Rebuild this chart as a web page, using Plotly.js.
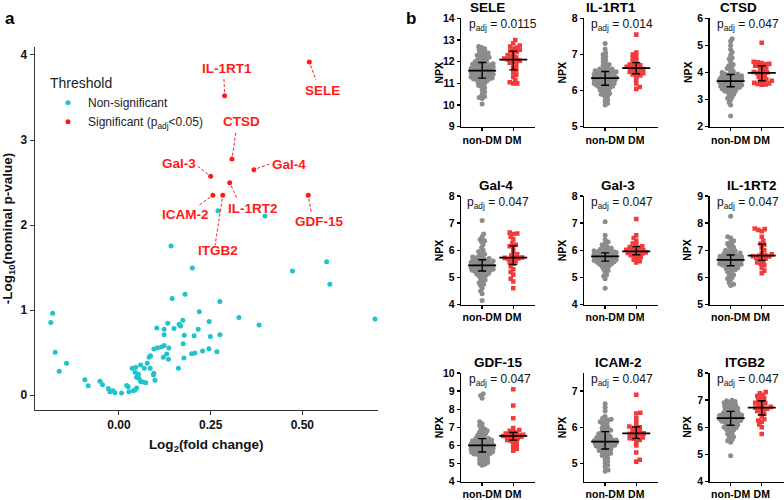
<!DOCTYPE html>
<html>
<head>
<meta charset="utf-8">
<script src="https://cdn.plot.ly/plotly-3.0.1.min.js"></script>
<style>html,body{margin:0;padding:0;background:#fff;}#chart{width:784px;height:500px;}</style>
</head>
<body>
<div id="chart"></div>
<script>
// ---------- Panel a: volcano data ----------
const nsX = [-0.186,-0.181,-0.174,-0.163,-0.143,-0.093,-0.084,-0.052,-0.045,-0.029,-0.025,-0.017,-0.011,0.007,0.021,0.025,0.027,0.036,0.039,0.044,0.046,0.044,0.048,0.048,0.053,0.055,0.059,0.059,0.065,0.069,0.073,0.077,0.082,0.086,0.085,0.094,0.095,0.095,0.098,0.103,0.105,0.116,0.121,0.123,0.123,0.123,0.130,0.133,0.135,0.136,0.145,0.150,0.162,0.164,0.168,0.174,0.175,0.177,0.178,0.180,0.198,0.200,0.207,0.205,0.216,0.219,0.228,0.245,0.246,0.249,0.267,0.275,0.275,0.327,0.382,0.473,0.566,0.575,0.698,0.142,0.270,0.398];
const nsY = [0.852,0.961,0.502,0.280,0.374,0.179,0.109,0.163,0.121,0.078,0.039,0.051,0.027,0.023,0.113,0.097,0.039,0.315,0.051,0.062,0.327,0.268,0.082,0.210,0.245,0.195,0.354,0.160,0.152,0.315,0.144,0.374,0.444,0.463,0.315,0.237,0.541,0.257,0.175,0.790,0.556,0.564,0.444,0.584,0.774,0.708,0.482,0.844,0.420,0.553,1.136,0.782,0.315,0.833,0.813,0.879,0.603,0.436,0.704,1.187,0.486,1.494,0.494,0.697,0.774,0.981,0.518,0.545,0.864,0.689,0.510,1.101,0.708,0.911,0.825,1.459,1.568,1.304,0.895,1.753,2.169,2.106];
const sigGenes = ['SELE','IL-1RT1','CTSD','Gal-4','Gal-3','IL-1RT2','ICAM-2','ITGB2','GDF-15'];
const sigX = [0.519,0.288,0.308,0.368,0.250,0.302,0.256,0.283,0.516];
const sigY = [3.918,3.522,2.776,2.651,2.573,2.498,2.349,2.349,2.349];

// ---------- Panel b: NPX data ----------
const panelGenes = ['SELE','IL-1RT1','CTSD','Gal-4','Gal-3','IL-1RT2','GDF-15','ICAM-2','ITGB2'];
const panelPadj = ['0.0115','0.014','0.047','0.047','0.047','0.047','0.047','0.047','0.047'];
const groupLabels = ['non-DM','DM'];

const seleNonDM = [12.7,12.65,12.6,12.55,12.5,12.45,12.4,12.4,12.35,12.3,12.3,12.25,12.2,12.2,12.15,12.1,12.1,12.05,12.0,12.0,11.95,11.95,11.9,11.9,11.88,11.85,11.85,11.8,11.8,11.78,11.75,11.75,11.7,11.7,11.68,11.65,11.65,11.62,11.6,11.6,11.58,11.55,11.55,11.52,11.5,11.5,11.48,11.45,11.45,11.42,11.4,11.4,11.38,11.35,11.35,11.32,11.3,11.3,11.28,11.25,11.22,11.2,11.2,11.18,11.15,11.1,11.1,11.05,11.0,10.95,10.9,10.85,10.8,10.7,10.6,10.5,10.4,10.35,10.3,10.05];
const seleDM = [13.0,12.85,12.75,12.7,12.65,12.6,12.55,12.5,12.45,12.4,12.3,12.25,12.2,12.15,12.1,12.1,12.05,12.0,11.95,11.9,11.8,11.7,11.6,11.5,11.4,11.3,11.15,11.05,11.0,11.0];
const il1rt1NonDM = [7.3,7.15,7.05,7.0,6.95,6.9,6.85,6.8,6.75,6.72,6.7,6.65,6.62,6.6,6.58,6.55,6.55,6.52,6.5,6.5,6.48,6.45,6.45,6.42,6.4,6.4,6.38,6.37,6.36,6.35,6.35,6.34,6.33,6.32,6.3,6.3,6.28,6.27,6.25,6.25,6.22,6.2,6.2,6.18,6.16,6.15,6.15,6.12,6.1,6.1,6.08,6.05,6.02,6.0,5.98,5.95,5.92,5.9,5.88,5.85,5.8,5.75,5.7,5.65,5.6,6.4,6.3,6.5,6.2,6.6,6.35,6.45,6.25,6.55,6.3,6.4];
const il1rt1DM = [7.55,7.05,7.0,6.95,6.9,6.85,6.8,6.75,6.72,6.7,6.68,6.66,6.65,6.62,6.6,6.58,6.55,6.52,6.5,6.48,6.45,6.42,6.4,6.3,6.2,6.1,6.05];
const ctsdNonDM = [5.25,5.15,5.0,4.85,4.75,4.65,4.55,4.5,4.4,4.3,4.25,4.2,4.15,4.1,4.05,4.0,3.98,3.95,3.95,3.92,3.9,3.88,3.85,3.85,3.82,3.8,3.8,3.78,3.76,3.75,3.74,3.72,3.7,3.7,3.69,3.68,3.67,3.66,3.65,3.64,3.62,3.6,3.6,3.58,3.56,3.55,3.54,3.52,3.5,3.5,3.48,3.46,3.45,3.42,3.4,3.4,3.38,3.35,3.32,3.3,3.28,3.25,3.2,3.15,3.1,3.05,3.0,2.9,2.8,2.4,3.7,3.6,3.8,3.5,3.65,3.75];
const ctsdDM = [5.1,4.4,4.38,4.35,4.32,4.3,4.25,4.2,4.15,4.1,4.05,4.02,4.0,3.98,3.95,3.9,3.85,3.8,3.75,3.7,3.65,3.62,3.6,3.58,3.56,3.55,4.25,3.68];
const gal4NonDM = [7.1,6.6,6.5,6.4,6.35,6.3,6.2,6.1,6.0,5.95,5.9,5.85,5.8,5.78,5.75,5.72,5.7,5.68,5.66,5.64,5.62,5.6,5.58,5.56,5.55,5.54,5.52,5.5,5.5,5.48,5.47,5.46,5.45,5.44,5.43,5.42,5.41,5.4,5.4,5.38,5.36,5.35,5.34,5.32,5.3,5.28,5.26,5.25,5.22,5.2,5.18,5.15,5.12,5.1,5.08,5.05,5.0,4.95,4.9,4.85,4.8,4.75,4.7,4.6,4.5,4.4,4.15,5.45,5.5,5.35,5.6,5.4,5.3,5.55,5.25];
const gal4DM = [6.65,6.62,6.6,6.5,6.4,6.25,6.2,6.15,6.1,5.95,5.85,5.8,5.75,5.73,5.72,5.7,5.65,5.6,5.55,5.5,5.4,5.3,5.2,5.1,4.95,4.85,4.6,5.68];
const gal3NonDM = [7.05,6.55,6.4,6.3,6.25,6.2,6.15,6.1,6.08,6.05,6.02,6.0,5.98,5.96,5.95,5.93,5.92,5.9,5.88,5.87,5.86,5.85,5.84,5.83,5.82,5.81,5.8,5.79,5.78,5.78,5.77,5.76,5.75,5.74,5.73,5.72,5.71,5.7,5.69,5.68,5.66,5.65,5.64,5.62,5.6,5.58,5.56,5.55,5.53,5.5,5.48,5.45,5.42,5.4,5.35,5.3,5.25,5.2,5.1,5.05,4.95,4.6,5.8,5.75,5.85,5.7,5.9,5.65,5.78,5.82,5.6,5.95];
const gal3DM = [7.15,6.55,6.45,6.35,6.25,6.2,6.15,6.12,6.1,6.05,6.0,5.98,5.96,5.95,5.93,5.9,5.88,5.85,5.82,5.8,5.75,5.7,5.65,5.6,5.55,6.02,5.92];
const il1rt2NonDM = [8.25,7.5,7.45,7.35,7.3,7.25,7.2,7.15,7.1,7.05,7.0,6.98,6.95,6.92,6.9,6.88,6.85,6.83,6.8,6.78,6.76,6.75,6.73,6.72,6.7,6.69,6.68,6.67,6.66,6.65,6.64,6.63,6.62,6.6,6.58,6.56,6.55,6.53,6.5,6.48,6.46,6.45,6.42,6.4,6.38,6.35,6.32,6.3,6.28,6.25,6.2,6.15,6.1,6.05,6.0,5.95,5.9,5.8,5.75,5.7,6.65,6.6,6.7,6.55,6.75,6.5,6.62,6.68,6.45,6.8];
const il1rt2DM = [7.8,7.78,7.75,7.7,7.5,7.35,7.25,7.2,7.1,7.0,6.9,6.85,6.82,6.8,6.78,6.77,6.75,6.72,6.7,6.65,6.6,6.55,6.5,6.45,6.35,6.25,6.15];
const gdf15NonDM = [8.85,8.75,8.6,7.3,7.2,7.1,7.0,6.9,6.85,6.8,6.75,6.7,6.65,6.6,6.55,6.5,6.45,6.4,6.38,6.35,6.3,6.28,6.25,6.2,6.18,6.15,6.12,6.1,6.08,6.05,6.03,6.0,6.0,5.98,5.95,5.92,5.9,5.88,5.85,5.82,5.8,5.78,5.75,5.72,5.7,5.68,5.65,5.62,5.6,5.58,5.55,5.52,5.5,5.48,5.45,5.4,5.35,5.3,5.25,5.2,5.15,5.1,5.05,5.0,4.95,4.9,6.0,6.1,5.9,6.2,5.8,6.3,5.7,6.05];
const gdf15DM = [9.1,8.2,7.5,6.95,6.85,6.8,6.75,6.7,6.65,6.6,6.58,6.55,6.53,6.52,6.5,6.48,6.45,6.4,6.35,6.3,6.25,6.2,6.1,6.0,5.9,5.8,5.7,6.55];
const icam2NonDM = [6.65,6.55,6.45,6.3,6.25,6.22,6.2,6.18,6.15,6.12,6.1,6.05,6.0,5.98,5.95,5.92,5.9,5.88,5.85,5.82,5.8,5.78,5.75,5.72,5.7,5.68,5.66,5.65,5.63,5.62,5.6,5.59,5.58,5.57,5.56,5.55,5.53,5.52,5.5,5.48,5.46,5.45,5.42,5.4,5.38,5.36,5.35,5.32,5.3,5.28,5.25,5.22,5.2,5.15,5.1,5.05,5.0,4.95,4.9,4.82,4.78,5.6,5.55,5.65,5.5,5.7,5.45,5.75,5.58];
const icam2DM = [6.9,6.4,6.38,6.25,6.15,6.05,6.02,6.0,5.98,5.95,5.9,5.88,5.85,5.83,5.82,5.8,5.78,5.75,5.72,5.7,5.68,5.65,5.6,5.5,5.3,5.1,5.05];
const itgb2NonDM = [7.0,6.98,6.95,6.92,6.9,6.88,6.85,6.82,6.8,6.78,6.75,6.72,6.7,6.68,6.65,6.62,6.6,6.58,6.55,6.52,6.5,6.48,6.45,6.43,6.41,6.4,6.38,6.36,6.35,6.34,6.33,6.32,6.3,6.28,6.26,6.25,6.22,6.2,6.18,6.15,6.12,6.1,6.08,6.05,6.02,6.0,5.98,5.95,5.92,5.9,5.85,5.8,5.75,5.7,5.65,5.6,5.55,5.5,5.45,4.95,6.35,6.3,6.4,6.25,6.45,6.2,6.5,6.33];
const itgb2DM = [7.3,7.25,7.2,7.15,7.1,7.05,7.0,6.95,6.9,6.88,6.85,6.8,6.75,6.72,6.7,6.68,6.65,6.6,6.55,6.5,6.4,6.3,6.25,6.2,6.1,6.0,5.75];

const panelNonDM = [seleNonDM, il1rt1NonDM, ctsdNonDM, gal4NonDM, gal3NonDM, il1rt2NonDM, gdf15NonDM, icam2NonDM, itgb2NonDM];
const panelDM = [seleDM, il1rt1DM, ctsdDM, gal4DM, gal3DM, il1rt2DM, gdf15DM, icam2DM, itgb2DM];

// ---------- layout / styling (not data) ----------
const W = 784, H = 500;
const FONT = 'Arial, "Liberation Sans", sans-serif';
const CYAN = '#1fc3cc', RED = '#ff1a1a', GRAY = '#8c8c8c', PRED = '#f23c3c';
const yRanges = [[9,14],[5,8],[2,6],[4,8],[4,8],[5,9],[4,10],[4.5,7.5],[4,8]];
const colAxisPx = [461, 584, 709.5];
const rowTopPx = [18.3, 196, 373];
const panelWpx = 74, panelHpx = 108.5;
const xRangeB = [-0.68, 1.70];
const titleXpx = [487, 611, 738, 496, 618, 752, 498, 618, 745];
const padjXpx = [503, 621.7, 748, 498, 621.7, 748, 500, 621.7, 748];
// label offsets (px): text dx, dy (screen, down +), dashed line end dx, dy
const labelOff = {
  'SELE':[13.3,28.7,6.7,18], 'IL-1RT1':[2.7,-26.7,-0.7,-18.3], 'CTSD':[9.7,-37.3,4,-27.3],
  'Gal-4':[35.3,-4.7,15.3,-5.7], 'Gal-3':[-32,-13,-13.3,-10.3], 'IL-1RT2':[23.7,25.7,7.7,16.7],
  'ICAM-2':[-27.3,19,-14,10], 'ITGB2':[-4.3,55.3,-7.7,50], 'GDF-15':[11.7,26.3,3.3,18]
};

function quantile(arr, q) {
  const s = arr.slice().sort((a,b)=>a-b);
  const pos = (s.length - 1) * q, lo = Math.floor(pos), hi = Math.ceil(pos);
  return s[lo] + (s[hi] - s[lo]) * (pos - lo);
}
// deterministic beeswarm: returns pixel offsets
function swarm(vals, pxPerUnit, diam, maxOff) {
  const order = vals.map((v,i)=>i).sort((a,b)=>vals[a]-vals[b]);
  const placed = [], off = new Array(vals.length).fill(0);
  order.forEach((i, n) => {
    const y = vals[i] * pxPerUnit;
    const near = placed.filter(p => Math.abs(p.y - y) < diam);
    let chosen = null, bestScore = -1, bestX = 0;
    for (let s = 0; s <= maxOff * 2 && chosen === null; s++) {
      const c = s === 0 ? [0] : (n % 2 ? [s*0.5, -s*0.5] : [-s*0.5, s*0.5]);
      for (const x of c) {
        let minD = Infinity;
        for (const p of near) { const d = Math.hypot(p.x - x, p.y - y); if (d < minD) minD = d; }
        if (minD >= diam) { chosen = x; break; }
        if (minD > bestScore) { bestScore = minD; bestX = x; }
      }
    }
    if (chosen === null) chosen = bestX;
    placed.push({x: chosen, y}); off[i] = chosen;
  });
  return off;
}

const traces = [];
const layout = {
  width: W, height: H, margin: {l:0, r:0, t:0, b:0},
  paper_bgcolor: '#fff', plot_bgcolor: '#fff',
  font: {family: FONT, color: '#000'},
  showlegend: true,
  legend: {x: 48/W, y: 1 - 70/H, xanchor: 'left', yanchor: 'top', bgcolor: 'rgba(0,0,0,0)',
    title: {text: 'Threshold', font: {size: 14, color: '#222'}},
    font: {size: 12, color: '#222'}, tracegroupgap: 0, itemwidth: 30},
  annotations: [], shapes: []
};

// ---- volcano ----
traces.push({type:'scatter', mode:'markers', x: nsX, y: nsY, name: 'Non-significant',
  marker: {color: CYAN, size: 5}, xaxis: 'x', yaxis: 'y', hoverinfo: 'skip'});
traces.push({type:'scatter', mode:'markers', x: sigX, y: sigY, name: 'Significant (p<sub>adj</sub>&lt;0.05)',
  marker: {color: RED, size: 5}, xaxis: 'x', yaxis: 'y', hoverinfo: 'skip'});

layout.xaxis = {domain: [34.5/W, 378/W], range: [-0.2304, 0.7063], anchor: 'y',
  tickvals: [0, 0.25, 0.5], ticktext: ['0.00','0.25','0.50'], ticks: 'outside', ticklen: 4, tickwidth: 1, tickcolor: '#333',
  showline: true, linecolor: '#333', linewidth: 1, showgrid: false, zeroline: false,
  tickfont: {size: 12, weight: 'bold', color: '#111'},
  title: {text: 'Log<sub>2</sub>(fold change)', font: {size: 13.5, weight: 'bold', color: '#111'}, standoff: 8}};
layout.yaxis = {domain: [1 - 410/H, 1 - 47/H], range: [-0.176, 4.094], anchor: 'x',
  tickvals: [0,1,2,3,4], ticks: 'outside', ticklen: 4, tickwidth: 1, tickcolor: '#333',
  showline: true, linecolor: '#333', linewidth: 1, showgrid: false, zeroline: false,
  tickfont: {size: 12, weight: 'bold', color: '#111'},
  title: {text: '-Log<sub>10</sub>(nominal p-value)', font: {size: 13.5, weight: 'bold', color: '#111'}, standoff: 5}};

sigGenes.forEach((g, i) => {
  const o = labelOff[g];
  layout.annotations.push({x: sigX[i], y: sigY[i], xref: 'x', yref: 'y', text: g, showarrow: false,
    xshift: o[0], yshift: -o[1], font: {size: 13.5, weight: 'bold', color: RED}});
  const len = Math.hypot(o[2], o[3]), sx = o[2]/len*3.5, sy = o[3]/len*3.5;
  layout.shapes.push({type: 'line', xref: 'x', yref: 'y', xsizemode: 'pixel', ysizemode: 'pixel',
    xanchor: sigX[i], yanchor: sigY[i], x0: sx, x1: o[2], y0: -sy, y1: -o[3],
    line: {color: RED, width: 1, dash: '3px,2px'}});
});

layout.annotations.push({xref:'paper', yref:'paper', x: 10/W, y: 1 - 18/H, text: 'a', showarrow: false,
  font: {size: 17, weight: 'bold'}, xanchor: 'center', yanchor: 'middle'});
layout.annotations.push({xref:'paper', yref:'paper', x: 411/W, y: 1 - 18/H, text: 'b', showarrow: false,
  font: {size: 17, weight: 'bold'}, xanchor: 'center', yanchor: 'middle'});

// ---- strip panels ----
const pxPerX = panelWpx / (xRangeB[1] - xRangeB[0]);
panelGenes.forEach((g, i) => {
  const k = i + 2, col = i % 3, row = Math.floor(i / 3);
  const xa = 'x' + k, ya = 'y' + k;
  const r = yRanges[i];
  const pxPerY = panelHpx / (r[1] - r[0]);
  const x0 = colAxisPx[col], top = rowTopPx[row];
  const groups = [panelNonDM[i], panelDM[i]];
  const offs0 = swarm(groups[0], pxPerY, 3.0, 11).map(v => 0 + v / pxPerX);
  const offs1 = swarm(groups[1], pxPerY, 3.6, 10).map(v => 1 + v / pxPerX);
  traces.push({type:'scatter', mode:'markers', x: offs0, y: groups[0], xaxis: xa, yaxis: ya, showlegend: false,
    marker: {color: GRAY, size: 5, symbol: 'circle'}, hoverinfo: 'skip'});
  traces.push({type:'scatter', mode:'markers', x: offs1, y: groups[1], xaxis: xa, yaxis: ya, showlegend: false,
    marker: {color: PRED, size: 4.6, symbol: 'square'}, hoverinfo: 'skip'});
  const med = groups.map(a => quantile(a, 0.5));
  const q1 = groups.map(a => quantile(a, 0.25));
  const q3 = groups.map(a => quantile(a, 0.75));
  traces.push({type:'scatter', mode:'markers', x: [0, 1], y: med, xaxis: xa, yaxis: ya, showlegend: false,
    marker: {symbol: 'line-ew-open', size: 20, color: '#000', line: {width: 1.8, color: '#000'}},
    error_y: {type: 'data', symmetric: false, array: q3.map((v,j)=>v-med[j]), arrayminus: med.map((v,j)=>v-q1[j]),
      color: '#000', thickness: 1.4, width: 4}, hoverinfo: 'skip'});
  layout['xaxis' + k] = {domain: [x0/W, (x0 + panelWpx)/W], anchor: ya, range: xRangeB,
    tickvals: [0, 1], ticktext: groupLabels, ticks: 'outside', ticklen: 3, tickwidth: 1.3, tickcolor: '#000',
    showline: true, linecolor: '#000', linewidth: 1.3, showgrid: false, zeroline: false,
    tickfont: {size: 10.5, weight: 'bold', color: '#000'}};
  const yt = [];
  for (let t = Math.ceil(r[0]); t <= r[1]; t++) yt.push(t);
  layout['yaxis' + k] = {domain: [1 - (top + panelHpx)/H, 1 - top/H], anchor: xa, range: r,
    tickvals: yt, ticks: 'outside', ticklen: 3, tickwidth: 1.3, tickcolor: '#000',
    showline: true, linecolor: '#000', linewidth: 1.3, showgrid: false, zeroline: false,
    tickfont: {size: 10.5, weight: 'bold', color: '#000'}};
  layout.annotations.push({xref:'paper', yref:'paper', x: titleXpx[i]/W, y: 1 - (top - 11)/H, text: g,
    showarrow: false, xanchor: 'center', yanchor: 'middle', font: {size: 13.5, weight: 'bold'}});
  layout.annotations.push({xref:'paper', yref:'paper', x: padjXpx[i]/W, y: 1 - (top + 7)/H,
    text: 'p<sub>adj</sub> = ' + panelPadj[i], showarrow: false, xanchor: 'center', yanchor: 'middle',
    font: {size: 12, color: '#111'}});
  layout.annotations.push({xref:'paper', yref:'paper', x: (x0 - 22)/W, y: 1 - (top + panelHpx/2)/H,
    text: 'NPX', textangle: -90, showarrow: false, xanchor: 'center', yanchor: 'middle',
    font: {size: 10.5, weight: 'bold'}});
});

Plotly.newPlot('chart', traces, layout, {staticPlot: true, displayModeBar: false});
</script>
</body>
</html>
